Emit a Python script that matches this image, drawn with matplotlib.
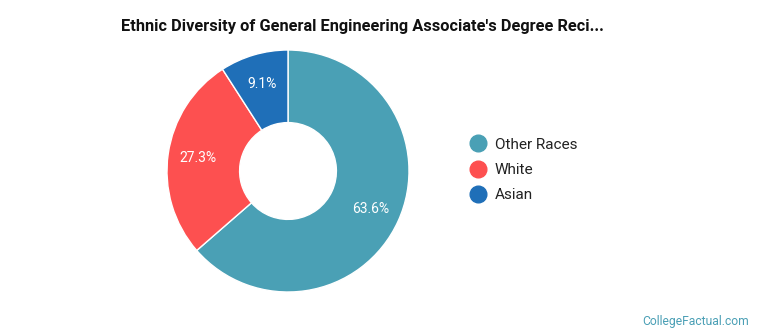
import matplotlib.pyplot as plt
from matplotlib.lines import Line2D

# data
labels = ["Other Races", "White", "Asian"]
shares = [63.6, 27.3, 9.1]
colors = ["#4aa0b5", "#fd5050", "#1f6fb8"]

title = "Ethnic Diversity of General Engineering Associate's Degree Reci..."

plt.rcParams['font.family'] = ['Roboto', 'DejaVu Sans']

fig = plt.figure(figsize=(7.7, 3.35), dpi=100)

# donut
ax = fig.add_axes([167 / 770, 43 / 335, 242 / 770, 242 / 335])
wedges, _, autotexts = ax.pie(
    shares, colors=colors, startangle=90, counterclock=False,
    autopct=lambda v: f"{v:.1f}%", pctdistance=0.75,
    wedgeprops=dict(width=0.6, edgecolor='white', linewidth=1),
    textprops=dict(color='white', fontsize=10))
ax.set_xlim(-1, 1)
ax.set_ylim(-1, 1)
ax.set_aspect('equal')

# legend
handles = [Line2D([0], [0], marker='o', linestyle='', markersize=12,
                  markerfacecolor=c, markeredgecolor=c) for c in colors]
fig.legend(handles, labels, loc='center left',
           bbox_to_anchor=(449 / 770, 1 - 170 / 335), frameon=False,
           fontsize=11, handletextpad=0.1, labelspacing=0.75,
           labelcolor='#222222')

fig.text(362 / 770, 1 - 27 / 335, title, ha='center', va='center',
         fontsize=11.8, fontweight='bold', color='#111111')
fig.text(749 / 770, 1 - 322 / 335, "CollegeFactual.com", ha='right',
         va='center', fontsize=8.7, color='#4a9fb5')

fig.savefig("out.png", dpi=100)
